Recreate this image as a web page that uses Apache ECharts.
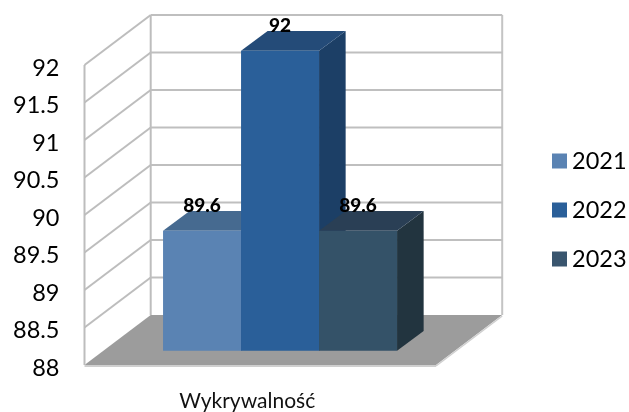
<!DOCTYPE html>
<html><head><meta charset="utf-8">
<style>html,body{margin:0;padding:0;background:#fff}#c{width:629px;height:412px}</style>
<script src="https://cdn.jsdelivr.net/npm/echarts@6/dist/echarts.min.js"></script>
</head><body><div id="c"></div>
<script>
var categories = ['Wykrywalność'];
var years = ['2021', '2022', '2023'];
var values2021 = [89.6];
var values2022 = [92];
var values2023 = [89.6];
var yTicks = [88, 88.5, 89, 89.5, 90, 90.5, 91, 91.5, 92];

var FONT = 'Lato';
var WALL_DX = 66.2, WALL_DY = -50;
var BAR_DX = 19.8, BAR_DY = -14.2;
var BAR_DEPTH_DX = 26.6, BAR_DEPTH_DY = -19.8;
var BAR_W = 78;
var colors = {
  '2021': {front:'#5A83B3', top:'#466A90', side:'#3B5A7C', legend:'#5A83B3'},
  '2022': {front:'#2A5F99', top:'#244B78', side:'#1C3F66', legend:'#2A5F99'},
  '2023': {front:'#345268', top:'#2A3F55', side:'#22343F', legend:'#39556E'}
};
var line = function(x1,y1,x2,y2,c,w){return {type:'line',silent:true,shape:{x1:x1,y1:y1,x2:x2,y2:y2},style:{stroke:c,lineWidth:w,fill:null}};};
var poly = function(pts,f){return {type:'polygon',silent:true,shape:{points:pts},style:{fill:f}};};

function renderFrame(params, api){
  var cs = params.coordSys;
  var xl = cs.x, xr = cs.x + cs.width;
  var y0 = api.coord([0, 88])[1];
  var kids = [];
  // floor
  kids.push(poly([[xl,y0],[xl+WALL_DX,y0+WALL_DY],[xr+WALL_DX,y0+WALL_DY],[xr,y0]],'#9C9C9C'));
  kids.push(line(xl,y0+1,xr,y0+1,'#CFCFCF',2));
  kids.push(line(xr,y0+1,xr+WALL_DX,y0+WALL_DY+1,'#CFCFCF',1.5));
  var top = api.coord([0, yTicks[yTicks.length-1]])[1];
  kids.push(line(xl,y0,xl,top,'#BDBDBD',2));
  kids.push(line(xl+WALL_DX,y0+WALL_DY,xl+WALL_DX,top+WALL_DY,'#BDBDBD',2));
  kids.push(line(xr+WALL_DX,y0+WALL_DY,xr+WALL_DX,top+WALL_DY,'#C4C4C4',2));
  yTicks.forEach(function(t){
    var y = api.coord([0,t])[1];
    if (t !== yTicks[0]) {
      kids.push(line(xl,y,xl+WALL_DX,y+WALL_DY,'#BDBDBD',2));
      kids.push(line(xl+WALL_DX,y+WALL_DY,xr+WALL_DX,y+WALL_DY,'#BFBFBF',2));
    }
  });
  return {type:'group',children:kids};
}

function makeBar(name, idx, vals){
  return {
    name:name, type:'custom', coordinateSystem:'cartesian2d', clip:false, z:3+idx,
    itemStyle:{color:colors[name].legend},
    encode:{x:0,y:1},
    data:vals.map(function(v,i){return [i,v];}),
    renderItem:function(params, api){
      var c = colors[name];
      var p = api.coord([api.value(0), api.value(1)]);
      var b = api.coord([api.value(0), 88]);
      var x0 = p[0] + (idx-1.5)*BAR_W + BAR_DX;
      var x1 = x0 + BAR_W;
      var yt = p[1] + BAR_DY, yb = b[1] + BAR_DY;
      var dx = BAR_DEPTH_DX, dy = BAR_DEPTH_DY;
      return {type:'group',children:[
        poly([[x1,yt],[x1+dx,yt+dy],[x1+dx,yb+dy],[x1,yb]],c.side),
        poly([[x0,yt],[x0+dx,yt+dy],[x1+dx,yt+dy],[x1,yt]],c.top),
        {type:'rect',silent:true,shape:{x:x0,y:yt,width:BAR_W,height:yb-yt},style:{fill:c.front}},
        {type:'text',silent:true,z2:100,x:(x0+x1)/2,y:yt-25,style:{text:String(api.value(1)),fill:'#000',
          fontFamily:FONT,fontWeight:900,fontSize:19,align:'center',verticalAlign:'middle'}}
      ]};
    }
  };
}

var chart = echarts.init(document.getElementById('c'),null,{renderer:'canvas'});
chart.setOption({
  animation:false,
  backgroundColor:'#fff',
  grid:{left:84.5,top:65,width:351.5,height:300.5,containLabel:false},
  legend:{
    orient:'vertical',left:547,top:144,itemWidth:15,itemHeight:15,itemGap:25,
    icon:'rect',data:years,selectedMode:false,
    textStyle:{fontFamily:FONT,fontSize:23.5,color:'#000'}
  },
  xAxis:{type:'category',data:categories,
    axisLine:{show:false},axisTick:{show:false},
    axisLabel:{fontFamily:FONT,fontSize:21,color:'#111',margin:26,padding:[0,26,0,0]}},
  yAxis:{type:'value',min:88,max:92,interval:0.5,
    axisLine:{show:false},axisTick:{show:false},splitLine:{show:false},
    axisLabel:{fontFamily:FONT,fontSize:23.5,color:'#000',margin:25,verticalAlign:'top',lineHeight:6}},
  series:[
    {name:'frame',type:'custom',coordinateSystem:'cartesian2d',clip:false,z:1,
     data:[[0,88]],encode:{x:0,y:1},renderItem:renderFrame},
    makeBar('2021',0,values2021),
    makeBar('2022',1,values2022),
    makeBar('2023',2,values2023)
  ]
});
</script></body></html>
